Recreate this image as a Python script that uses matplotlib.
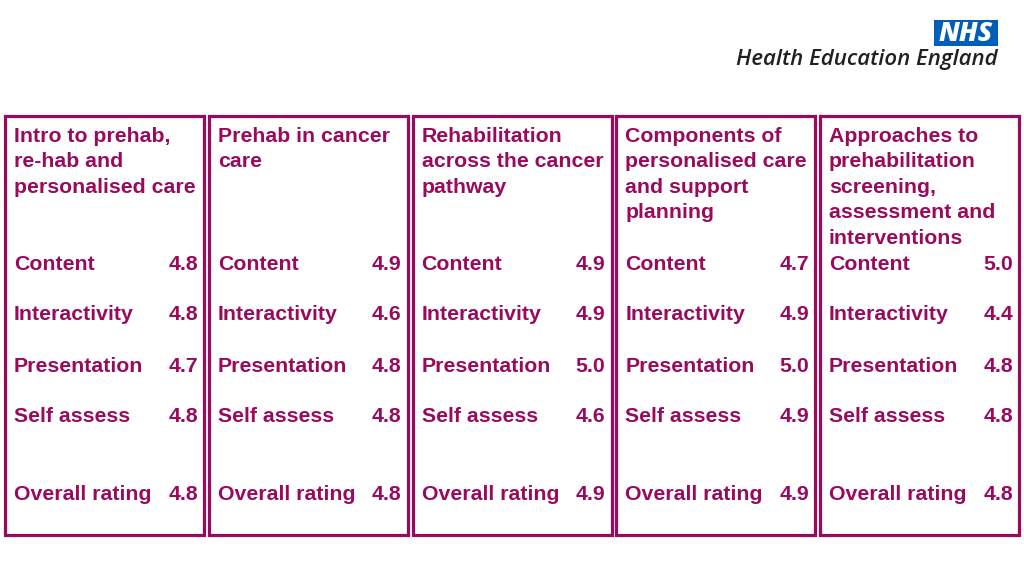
import matplotlib.pyplot as plt
from matplotlib.patches import Rectangle

plt.rcParams['font.family'] = ['Liberation Sans', 'DejaVu Sans']

# module titles (line breaks as on the slide)
modules = [
    ["Intro to prehab,", "re-hab and", "personalised care"],
    ["Prehab in cancer", "care"],
    ["Rehabilitation", "across the cancer", "pathway"],
    ["Components of", "personalised care", "and support", "planning"],
    ["Approaches to", "prehabilitation", "screening,", "assessment and", "interventions"],
]
criteria = ["Content", "Interactivity", "Presentation", "Self assess", "Overall rating"]

content = [4.8, 4.9, 4.9, 4.7, 5.0]
interactivity = [4.8, 4.6, 4.9, 4.9, 4.4]
presentation = [4.7, 4.8, 5.0, 5.0, 4.8]
self_assess = [4.8, 4.8, 4.6, 4.9, 4.8]
overall = [4.8, 4.8, 4.9, 4.9, 4.8]

scores = [content, interactivity, presentation, self_assess, overall]

plum = "#990a5c"
W, H = 1024, 576

fig = plt.figure(figsize=(W / 100, H / 100), dpi=100)
ax = fig.add_axes([0, 0, 1, 1])
ax.set_xlim(0, W)
ax.set_ylim(H, 0)
ax.axis("off")

box_w = 199
step = 203.75
top, bottom = 116, 535
row_y = [264, 315, 366, 417, 494]
fs = 15.3

for i, title in enumerate(modules):
    x0 = 5 + i * step
    ax.add_patch(Rectangle((x0, top), box_w, bottom - top, fill=False,
                           edgecolor=plum, linewidth=2.3))
    for k, line in enumerate(title):
        ax.text(x0 + 9, 136 + 25.6 * k, line, color=plum, fontsize=fs,
                fontweight="bold", va="center", ha="left")
    for r, name in enumerate(criteria):
        ax.text(x0 + 9, row_y[r], name, color=plum, fontsize=fs,
                fontweight="bold", va="center", ha="left")
        ax.text(x0 + box_w - 6, row_y[r], f"{scores[r][i]:.1f}", color=plum,
                fontsize=fs, fontweight="bold", va="center", ha="right")

# logo
ax.add_patch(Rectangle((934, 20), 64, 26, facecolor="#005eb8", edgecolor="none"))
ax.text(966, 34, "NHS", color="white", fontsize=19, fontweight="heavy",
        style="italic", ha="center", va="center", family=["Open Sans", "DejaVu Sans"])
ax.text(998, 59, "Health Education England", color="#231f20", fontsize=16,
        fontweight="semibold", style="italic", ha="right", va="center",
        family=["Open Sans", "DejaVu Sans"])

fig.savefig("out.png", dpi=100)
